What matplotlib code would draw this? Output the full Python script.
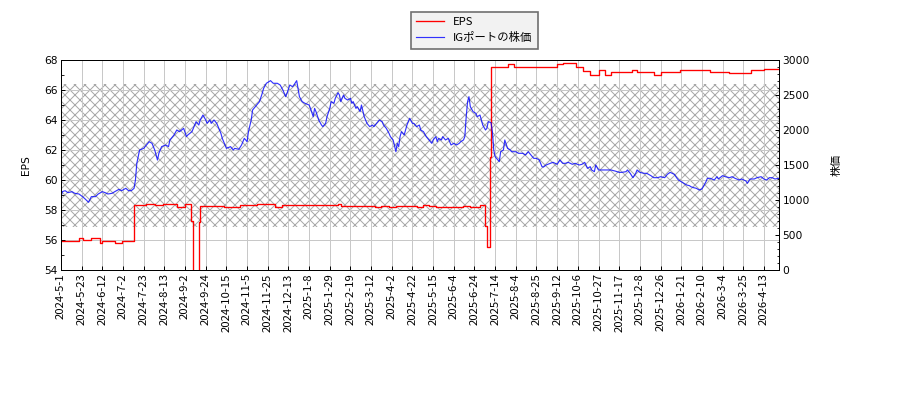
import matplotlib
matplotlib.use("Agg")
import matplotlib.pyplot as plt
from matplotlib.ticker import MultipleLocator

plt.rcParams['font.family'] = ['DejaVu Sans', 'Noto Sans CJK JP']
plt.rcParams['hatch.linewidth'] = 0.6

# x axis: trading-day number, labelled every 15 days
tick_labels = ["2024-5-1", "2024-5-23", "2024-6-12", "2024-7-2", "2024-7-23", "2024-8-13",
               "2024-9-2", "2024-9-24", "2024-10-15", "2024-11-5", "2024-11-25", "2024-12-13",
               "2025-1-8", "2025-1-29", "2025-2-19", "2025-3-12", "2025-4-2", "2025-4-22",
               "2025-5-15", "2025-6-4", "2025-6-24", "2025-7-14", "2025-8-4", "2025-8-25",
               "2025-9-12", "2025-10-6", "2025-10-27", "2025-11-17", "2025-12-8", "2025-12-26",
               "2026-1-21", "2026-2-10", "2026-3-4", "2026-3-25", "2026-4-13"]
tick_step = 15
last_day = 521

# IGポート share price (sampled days)
price_day = [0, 1, 3, 5, 8, 10, 13, 15, 17, 20, 22, 25, 27, 30, 32, 34, 37, 39, 42, 44, 47, 49, 51, 53,
             54, 55, 57, 60, 62, 64, 66, 68, 70, 71, 73, 76, 78, 79, 82, 84, 86, 89, 91, 92, 95, 97,
             98, 100, 101, 103, 105, 106, 108, 109, 111, 113, 114, 116, 117, 119, 120, 123, 125, 126,
             129, 131, 133, 135, 136, 138, 139, 142, 144, 146, 147, 149, 152, 154, 157, 159, 161, 163,
             164, 166, 168, 169, 171, 172, 173, 175, 177, 180, 181, 183, 184, 185, 187, 189, 190, 192,
             193, 195, 196, 198, 199, 201, 202, 203, 205, 206, 208, 210, 211, 212, 214, 215, 217, 218,
             220, 222, 224, 226, 227, 229, 231, 233, 234, 236, 238, 239, 241, 243, 244, 245, 246, 247,
             249, 251, 253, 255, 256, 258, 260, 261, 263, 265, 267, 269, 270, 272, 273, 274, 276, 277,
             279, 281, 282, 283, 285, 287, 289, 290, 292, 293, 294, 295, 296, 297, 299, 301, 302, 304,
             306, 308, 309, 310, 312, 313, 314, 315, 316, 318, 319, 321, 322, 324, 326, 327, 330, 332,
             335, 337, 339, 341, 343, 345, 347, 349, 350, 352, 355, 357, 360, 362, 364, 366, 368, 371,
             373, 376, 378, 380, 382, 384, 385, 387, 388, 390, 393, 395, 399, 402, 405, 407, 410, 411,
             413, 415, 417, 418, 420, 423, 425, 428, 430, 433, 435, 438, 440, 442, 445, 447, 448, 450,
             452, 454, 456, 457, 459, 461, 463, 465, 466, 468, 469, 471, 474, 476, 477, 480, 482, 485,
             487, 489, 492, 494, 497, 498, 500, 503, 505, 508, 510, 512, 514, 516, 518, 521]
price = [1040, 1120, 1133, 1105, 1119, 1095, 1086, 1057, 1024, 967, 1048, 1048, 1086, 1119, 1105, 1086,
         1095, 1119, 1152, 1133, 1167, 1133, 1133, 1167, 1286, 1524, 1714, 1738, 1786, 1833, 1810, 1714,
         1571, 1667, 1762, 1786, 1762, 1857, 1929, 2000, 1976, 2024, 1905, 1929, 1976, 2071, 2119, 2071,
         2143, 2214, 2143, 2095, 2143, 2095, 2143, 2095, 2048, 1952, 1881, 1786, 1738, 1762, 1714, 1738,
         1724, 1786, 1881, 1833, 1976, 2143, 2286, 2357, 2405, 2524, 2595, 2667, 2705, 2667, 2667, 2643,
         2571, 2476, 2524, 2643, 2619, 2643, 2705, 2595, 2476, 2405, 2381, 2357, 2309, 2190, 2309, 2262,
         2143, 2071, 2048, 2095, 2190, 2309, 2405, 2381, 2452, 2533, 2500, 2405, 2500, 2452, 2428, 2452,
         2381, 2405, 2309, 2333, 2262, 2357, 2190, 2095, 2048, 2071, 2048, 2095, 2143, 2119, 2071, 2024,
         1952, 1905, 1857, 1690, 1810, 1762, 1905, 1976, 1929, 2071, 2167, 2095, 2095, 2048, 2071, 2000,
         1976, 1905, 1857, 1810, 1857, 1905, 1833, 1881, 1857, 1905, 1857, 1881, 1833, 1786, 1810, 1786,
         1810, 1833, 1857, 1905, 2190, 2405, 2476, 2333, 2262, 2238, 2190, 2214, 2071, 2000, 2024, 2119,
         2105, 1976, 1714, 1619, 1595, 1548, 1690, 1714, 1857, 1738, 1714, 1690, 1690, 1667, 1667, 1643,
         1690, 1643, 1595, 1595, 1571, 1476, 1470, 1500, 1524, 1538, 1510, 1571, 1524, 1524, 1538, 1510,
         1524, 1500, 1510, 1538, 1452, 1476, 1429, 1405, 1500, 1429, 1429, 1429, 1429, 1414, 1395, 1395,
         1405, 1429, 1381, 1319, 1381, 1429, 1395, 1381, 1381, 1348, 1319, 1319, 1333, 1319, 1367, 1395,
         1367, 1310, 1286, 1262, 1238, 1214, 1205, 1190, 1176, 1167, 1143, 1157, 1190, 1262, 1310, 1310,
         1286, 1333, 1300, 1348, 1333, 1319, 1333, 1310, 1286, 1300, 1271, 1238, 1300, 1300, 1319, 1333,
         1300, 1286, 1319, 1319, 1300, 1310]

# EPS, as change points (value holds until the next day listed)
eps_day = [0, 13, 16, 22, 28, 30, 39, 44, 53, 62, 68, 74, 84, 90, 94, 96, 100, 101, 118, 130, 142,
           155, 160, 201, 203, 228, 232, 238, 243, 258, 263, 267, 272, 292, 297, 304, 308, 309, 311,
           312, 324, 329, 360, 364, 374, 379, 384, 390, 395, 399, 414, 418, 430, 435, 449, 471, 485,
           501, 510, 521]
eps = [55.96, 56.11, 56.0, 56.13, 55.78, 55.93, 55.78, 55.96, 58.33, 58.38, 58.33, 58.38, 58.22, 58.4,
       57.29, 48.0, 57.2, 58.29, 58.18, 58.33, 58.38, 58.22, 58.33, 58.4, 58.29, 58.18, 58.29, 58.18,
       58.29, 58.18, 58.33, 58.29, 58.18, 58.29, 58.18, 58.33, 56.95, 55.56, 61.56, 67.56, 67.71, 67.56,
       67.71, 67.8, 67.56, 67.27, 67.0, 67.33, 67.0, 67.18, 67.31, 67.22, 67.0, 67.18, 67.31, 67.22,
       67.16, 67.31, 67.4, 67.4]

# shaded band (left axis units)
band_lo = 56.84
band_hi = 66.4

fig = plt.figure(figsize=(7.5, 10 / 3), dpi=120)
ax = fig.add_axes([0.0678, 0.325, 0.7978, 0.525])
ax2 = ax.twinx()

ax.axhspan(band_lo, band_hi, facecolor='none', edgecolor='#a8a8a8', hatch='xxxx', linewidth=0, zorder=0)
l1, = ax.plot(eps_day, eps, color='red', lw=0.8, drawstyle='steps-post', label='EPS')
l2, = ax2.plot(price_day, price, color='blue', lw=0.7, alpha=0.8, label='IGポートの株価')

ax.set_xlim(0, last_day)
ax.set_ylim(54, 68)
ax2.set_ylim(0, 3000)

ax.set_xticks(range(0, tick_step * len(tick_labels), tick_step))
ax.set_xticklabels(tick_labels, rotation=90, fontsize=6.8, family=['Noto Sans CJK JP', 'DejaVu Sans'])
ax.yaxis.set_major_locator(MultipleLocator(2))
ax.yaxis.set_minor_locator(MultipleLocator(1))
ax2.yaxis.set_major_locator(MultipleLocator(500))
ax2.yaxis.set_minor_locator(MultipleLocator(100))

for a in (ax, ax2):
    a.tick_params(which='major', direction='in', length=2.5, width=0.6, labelsize=6.4, pad=2)
    a.tick_params(which='minor', direction='in', length=1.5, width=0.5)
    for s in a.spines.values():
        s.set_linewidth(0.6)
ax.tick_params(axis='x', labelsize=6.8)

ax.grid(True, which='major', color='#c8c8c8', lw=0.6)
ax.set_axisbelow(True)

ax.set_ylabel('EPS', fontsize=6.4, labelpad=8)
ax2.set_ylabel('株価', fontsize=6.6, labelpad=13, family=['Noto Sans CJK JP', 'DejaVu Sans'])

fig.legend([l1, l2], ['EPS', 'IGポートの株価'], loc='upper center', bbox_to_anchor=(0.527, 0.985),
           fancybox=False, edgecolor='#707070', facecolor='#f2f2f2', framealpha=1,
           prop={'family': ['Noto Sans CJK JP', 'DejaVu Sans'], 'size': 6.8},
           handlelength=2.4, borderpad=0.5, labelspacing=0.4)

fig.savefig('out.png', dpi=120)
